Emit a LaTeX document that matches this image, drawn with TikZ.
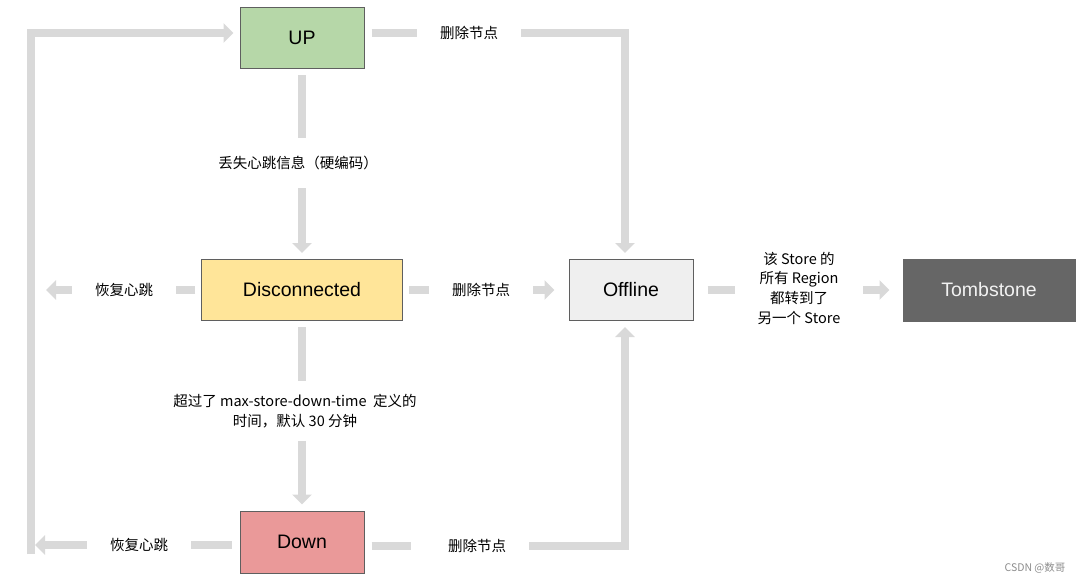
\documentclass[tikz,border=0pt]{standalone}
\usepackage{fontspec}
\setmainfont{Liberation Sans}
\newfontfamily\cjk{Noto Sans CJK SC}
\usetikzlibrary{arrows.meta,positioning}
\definecolor{flowgrey}{HTML}{D9D9D9}
\definecolor{boxline}{HTML}{5F5F5F}
\definecolor{upfill}{HTML}{B6D7A8}
\definecolor{discfill}{HTML}{FFE599}
\definecolor{downfill}{HTML}{EA9999}
\definecolor{offfill}{HTML}{EFEFEF}
\definecolor{tombfill}{HTML}{666666}
\tikzset{
  state/.style={draw=boxline, line width=1pt, minimum height=61pt, minimum width=124pt,
    font=\fontsize{19.5}{22}\selectfont},
  lbl/.style={font=\cjk\fontsize{14.5}{19.7}\selectfont, align=center,
    inner xsep=23pt, inner ysep=18pt},
  flow/.style={draw=flowgrey, line width=8.5pt},
  flowarr/.style={flow, -{Triangle[width=19pt,length=10pt]}}
}
\begin{document}
\begin{tikzpicture}[x=1pt,y=-1pt]
        \useasboundingbox (0,0) rectangle (1084,584);
        \node[state, fill=upfill] (up) at (302,38) {UP};
        \node[state, fill=discfill, minimum width=201pt] (disc) at (302,290) {Disconnected};
        \node[state, fill=downfill, minimum height=62pt] (down) at (302,542) {Down};
        \node[state, fill=offfill] (off) at (631,290) {Offline};
        \node[state, draw=tombfill, fill=tombfill, text=white!95!black, minimum width=172pt, minimum height=62pt] (tomb) at (989,290) {Tombstone};
        \node[lbl] (upoff) at (469,33) {删除节点};
        \node[lbl] (updisc) at (298,163) {丢失心跳信息（硬编码）};
        \node[lbl] (discback) at (124,290) {恢复心跳};
        \node[lbl] (discoff) at (481,290) {删除节点};
        \node[lbl, inner ysep=13pt] (discdown) at (295,411) {超过了 max-store-down-time \ 定义的\\时间，默认 30 分钟};
        \node[lbl] (downback) at (139,545) {恢复心跳};
        \node[lbl] (downoff) at (477,546) {删除节点};
        \node[lbl] (offtomb) at (799,288) {该 Store 的\\所有 Region\\都转到了\\另一个 Store};
        \node[font=\cjk\fontsize{10.5}{12}\selectfont, text=black!45] (mark) at (1035,568) {CSDN @数哥};
        \coordinate (discend) at (46,290);
        \coordinate (downend) at (35,545);
        \coordinate (loopstart) at (31,554);
        \draw[flow, shorten <=7pt] ([yshift=5pt]up.east) -- (upoff.west);
        \draw[flowarr, shorten >=6pt] (upoff.east) -| ([xshift=-6pt]off.north);
        \draw[flow, shorten <=6pt] (up.south) -- (up.south |- updisc.north);
        \draw[flowarr, shorten >=6pt] (up.south |- updisc.south) -- (disc.north);
        \draw[flow, shorten <=6pt] (disc.west) -- (discback.east);
        \draw[flowarr] (discback.west) -- (discend);
        \draw[flow, shorten <=6pt] (disc.east) -- (discoff.west);
        \draw[flowarr, shorten >=14pt] (discoff.east) -- (off.west);
        \draw[flow, shorten <=6pt] (disc.south) -- (disc.south |- discdown.north);
        \draw[flowarr, shorten >=6pt] (disc.south |- discdown.south) -- (down.north);
        \draw[flow, shorten <=8pt] ([yshift=-3pt]down.west) -- (downback.east);
        \draw[flowarr] (downback.west) -- (downend);
        \draw[flowarr, shorten >=6pt] (loopstart) |- ([yshift=5pt]up.west);
        \draw[flow, shorten <=7pt, shorten >=14pt] ([yshift=-4pt]down.east) -- (downoff.west);
        \draw[flowarr, shorten >=6pt] (downoff.east) -| ([xshift=-6pt]off.south);
        \draw[flow, shorten <=14pt] (off.east) -- (off.east -| offtomb.west);
        \draw[flowarr, shorten >=13pt] (tomb.west -| offtomb.east) -- (tomb.west);
    \end{tikzpicture}
\end{document}
